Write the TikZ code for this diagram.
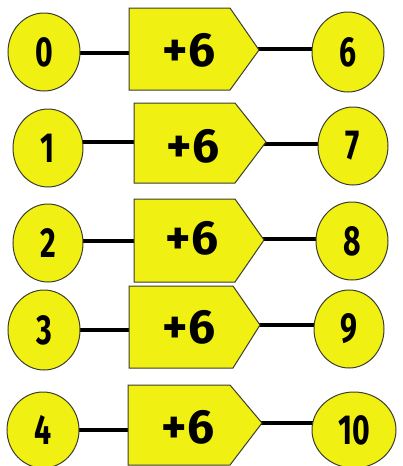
\documentclass[tikz,border=0pt]{standalone}
\usepackage{fontspec}
\setmainfont{Fira Sans}
\usetikzlibrary{shapes.geometric,backgrounds}
\definecolor{yel}{RGB}{240,240,18}
\definecolor{edgec}{RGB}{60,60,50}
\newcommand{\nd}[1]{\scalebox{0.72}[1]{#1}}
\begin{document}
\begin{tikzpicture}[x=1pt,y=-1pt,
  ball/.style={ellipse,draw=edgec,line width=1pt,fill=yel,inner sep=0pt,font=\bfseries\fontsize{42}{42}\selectfont},
  adder/.style={draw=edgec,line width=1pt,fill=yel,line join=miter},
  addtext/.style={inner sep=0pt,font=\bfseries\fontsize{48}{48}\selectfont},
  inlink/.style={line width=3.5pt,black},
  outlink/.style={line width=4.5pt,black}]
\useasboundingbox (0,0) rectangle (402,466);

% row 0
\node[ball,minimum width=72,minimum height=78] (a0) at (44,52) {\nd{0}};
\draw[adder] (129,8) -- (230,8) -- (259,50) -- (230,90) -- (129,90) -- cycle;
\coordinate (p0in) at (131,53);
\coordinate (p0out) at (257,49);
\node[addtext] (t0) at (189,50) {+6};
\node[ball,minimum width=72,minimum height=80] (b0) at (348,52) {\nd{6}};

% row 1
\node[ball,minimum width=70,minimum height=78] (a1) at (48,148) {\nd{1}};
\draw[adder] (134,103) -- (235,103) -- (266,142) -- (235,183) -- (134,183) -- cycle;
\coordinate (p1in) at (136,142);
\coordinate (p1out) at (264,144);
\node[addtext] (t1) at (193,146) {+6};
\node[ball,minimum width=70,minimum height=78] (b1) at (353,146) {\nd{7}};

% row 2
\node[ball,minimum width=70,minimum height=78] (a2) at (48,243) {\nd{2}};
\draw[adder] (134,199) -- (235,199) -- (264,240) -- (235,282) -- (134,282) -- cycle;
\coordinate (p2in) at (136,241);
\coordinate (p2out) at (262,239);
\node[addtext] (t2) at (192,238) {+6};
\node[ball,minimum width=72,minimum height=78] (b2) at (352,241) {\nd{8}};

% row 3
\node[ball,minimum width=72,minimum height=80] (a3) at (44,330) {\nd{3}};
\draw[adder] (129,286) -- (233,286) -- (260,325) -- (233,368) -- (129,368) -- cycle;
\coordinate (p3in) at (131,330);
\coordinate (p3out) at (258,325);
\node[addtext] (t3) at (189,327) {+6};
\node[ball,minimum width=70,minimum height=78] (b3) at (349,329) {\nd{9}};

% row 4
\node[ball,minimum width=72,minimum height=76] (a4) at (43,430) {\nd{4}};
\draw[adder] (128,385) -- (230,385) -- (262,423) -- (230,465) -- (128,465) -- cycle;
\coordinate (p4in) at (130,430);
\coordinate (p4out) at (260,423);
\node[addtext] (t4) at (188,427) {+6};
\node[ball,minimum width=84,minimum height=76] (b4) at (354,430) {\nd{10}};

\begin{scope}[on background layer]
  \foreach \k in {0,...,4}{
    \draw[inlink] (p\k in) -- (p\k in -| a\k.center);
    \draw[outlink] (p\k out) -- (p\k out -| b\k.center);
  }
\end{scope}
\end{tikzpicture}
\end{document}
